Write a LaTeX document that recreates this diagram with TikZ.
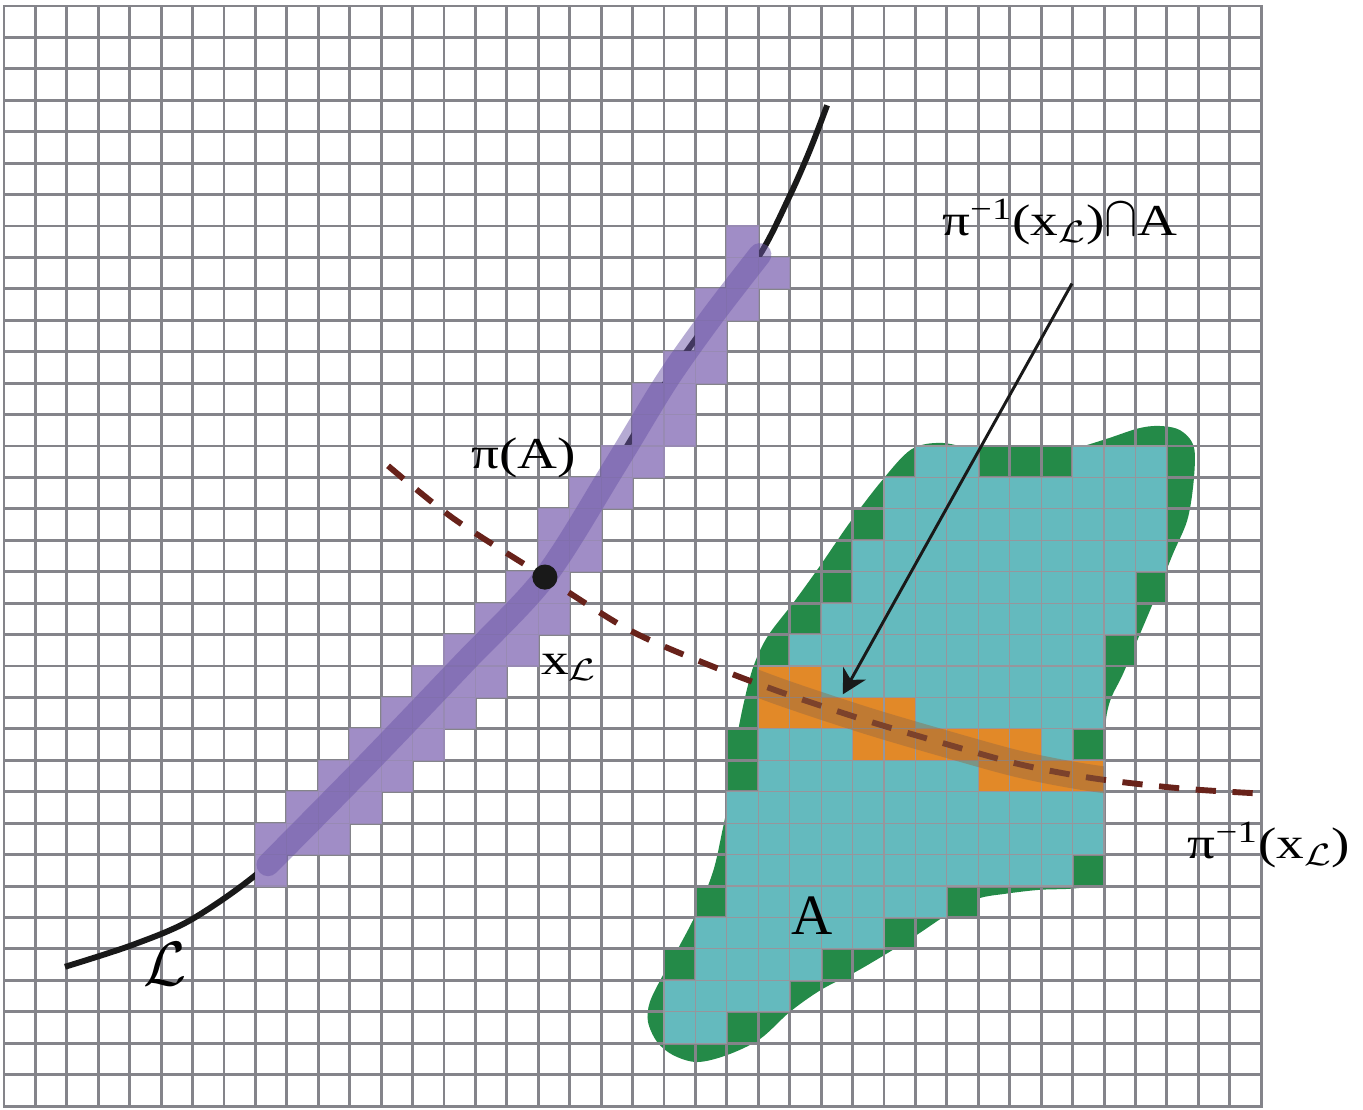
\RequirePackage{fix-cm}
\documentclass[tikz,border=0pt]{standalone}
\usepackage{graphicx}
\usepackage{fontspec}
\setmainfont{Liberation Serif}
\usetikzlibrary{arrows.meta}
\definecolor{gridGray}{RGB}{132,132,138}
\definecolor{cellCyan}{RGB}{100,186,190}
\definecolor{cellOrange}{RGB}{226,137,40}
\definecolor{cellPurple}{RGB}{160,141,198}
\definecolor{blobGreen}{RGB}{36,138,72}
\definecolor{bandPurple}{RGB}{108,86,168}
\definecolor{bandBrown}{RGB}{150,105,65}
\definecolor{fibreRed}{RGB}{104,34,26}
\newcommand{\stretchtag}[1]{\scalebox{1.25}[1]{#1}}
\newcommand{\capsign}{\scalebox{0.9}[1.3]{$\cap$}}

\begin{document}
\begin{tikzpicture}[x=0.6cm,y=-0.6cm,
  gridline/.style={draw=gridGray,line width=1.6pt,line cap=rect},
  cellbox/.style={draw=gridGray!85!white,line width=0.6pt},
  pcell/.style={cellbox,fill=cellPurple,draw=cellPurple!75!gray},
  ccell/.style={cellbox,fill=cellCyan},
  ocell/.style={cellbox,fill=cellOrange},
  curveL/.style={draw=black!90,line width=3.2pt},
  fibre/.style={draw=fibreRed,line width=3.2pt,dash pattern=on 11pt off 9pt},
  imageband/.style={draw=bandPurple,draw opacity=0.5,line width=12.5pt,line cap=round},
  fibreband/.style={draw=bandBrown,draw opacity=0.45,line width=14.5pt},
  pointer/.style={-{Stealth[length=13pt,width=14pt,inset=4pt]},line width=1.6pt,draw=black!90,fill=black!90},
  dot/.style={circle,fill=black!90,inner sep=0pt,minimum size=0.48cm},
  tag/.style={font=\fontsize{24}{28}\selectfont,inner sep=0pt},
]
\useasboundingbox (-0.127,-0.191) rectangle (43.24,35.10);
\fill[white] (-0.127,-0.191) rectangle (43.24,35.10);

% the set A and its boundary cells
\fill[blobGreen] plot[smooth cycle,tension=0.55] coordinates {(23.10,24.99) (23.30,23.40) (23.55,22.12) (23.85,21.00) (24.30,20.05) (25.15,18.94) (26.00,17.76) (26.90,16.45) (27.90,15.14) (28.85,14.12) (29.78,13.90) (30.83,14.09) (31.91,14.25) (32.96,14.25) (34.01,14.09) (35.09,13.77) (36.05,13.45) (36.68,13.36) (37.32,13.45) (37.73,13.77) (37.89,14.25) (37.83,15.33) (37.64,16.39) (37.19,17.44) (36.68,18.71) (36.14,19.99) (35.60,21.26) (35.19,22.12) (35.03,23.08) (35.00,25.31) (35.00,27.22) (34.81,27.92) (34.01,28.08) (32.96,28.12) (31.91,28.24) (30.99,28.40) (30.10,28.85) (29.05,29.55) (27.97,30.22) (27.01,30.78) (26.00,31.30) (25.01,32.00) (24.05,32.87) (23.00,33.38) (22.05,33.60) (21.29,33.38) (20.78,32.96) (20.49,32.32) (20.55,31.69) (20.97,30.83) (21.51,29.87) (22.05,28.82) (22.56,27.54) (22.85,26.27)};
\foreach \c/\r in {31/14,32/14,33/14,27/16,26/18,36/18,35/20,23/23,34/23,23/24,34/27,22/28,30/28,28/29,21/30,26/30,23/32}
  \fill[blobGreen] (\c,\r) rectangle ++(1,1);

% grid
\foreach \i in {0,...,40}
  \draw[gridline] (\i,0) -- (\i,35);
\foreach \j in {0,...,35}
  \draw[gridline] (0,\j) -- (40,\j);

% the curve L
\draw[curveL] plot[smooth] coordinates {(1.94,30.57) (4.10,29.87) (6.01,29.04) (8.40,27.32) (11.42,24.26) (14.60,20.94) (17.21,18.17) (19.38,14.73) (21.09,11.92) (22.53,9.88) (24.05,7.91) (25.01,6.02) (25.64,4.59) (26.19,3.16)};

% cells inside A
\foreach \r/\a/\b in {14/29/30,14/34/36,15/28/36,16/28/36,17/27/36,18/27/35,19/26/35,20/25/34,21/26/34,22/29/34,23/24/26,23/33/33,24/24/30,25/23/34,26/23/34,27/23/33,28/23/29,29/22/27,30/22/25,31/21/24,32/21/22}
  \foreach \c in {\a,...,\b}
    \draw[ccell] (\c,\r) rectangle ++(1,1);
% cells meeting the fibre
\foreach \r/\a/\b in {21/24/25,22/24/28,23/27/32,24/31/34}
  \foreach \c in {\a,...,\b}
    \draw[ocell] (\c,\r) rectangle ++(1,1);
% cells of pi(A)
\foreach \r/\a/\b in {7/23/23,8/23/24,9/22/23,10/22/22,11/21/22,12/20/21,13/20/21,14/19/20,15/18/19,16/17/18,17/17/18,18/16/17,19/15/17,20/14/16,21/13/15,22/12/14,23/11/13,24/10/12,25/9/11,26/8/10,27/8/8}
  \foreach \c in {\a,...,\b}
    \draw[pcell] (\c,\r) rectangle ++(1,1);

% the fibre through x_L
\draw[fibre] plot[smooth] coordinates {(12.22,14.63) (14.32,16.32) (17.21,18.17) (19.85,19.83) (22.14,20.85) (24.63,21.80) (27.33,22.70) (29.69,23.40) (32.33,24.13) (34.71,24.58) (37.51,24.90) (40.03,25.06)};

% translucent bands
\draw[imageband] plot[smooth] coordinates {(8.40,27.32) (11.42,24.26) (14.60,20.94) (17.21,18.17) (19.38,14.73) (21.09,11.92) (22.53,9.88) (24.05,7.91)};
\begin{scope}
  \clip (24,0) rectangle (35,35);
  \draw[fibreband] plot[smooth] coordinates {(22.14,20.85) (24.63,21.80) (27.33,22.70) (29.69,23.40) (32.33,24.13) (34.71,24.58) (37.51,24.90)};
\end{scope}

% point and labels
\node[dot] (xL) at (17.21,18.17) {};
\node[tag,anchor=base] (xLtag) at (17.98,21.26) {\stretchtag{x\textsubscript{$\mathcal{L}$}}};
\node[tag,anchor=base] (imageTag) at (16.54,14.73) {\stretchtag{π(A)}};
\node[tag,anchor=base] (meet) at (33.60,7.30) {\stretchtag{π\textsuperscript{−1}(x\textsubscript{$\mathcal{L}$})\capsign A}};
\node[tag,anchor=base] (fibreTag) at (40.25,27.13) {\stretchtag{π\textsuperscript{−1}(x\textsubscript{$\mathcal{L}$})}};
\node[tag,anchor=base,font=\fontsize{31}{36}\selectfont] (setTag) at (25.71,29.55) {A};
\node[tag,font=\fontsize{34}{40}\selectfont] (curveTag) at (5.12,30.47) {$\mathcal{L}$};

\coordinate (hit) at (26.69,21.90);
\draw[pointer] ([shift={(0.38,1.53)}]meet.base) -- (hit);
\end{tikzpicture}
\end{document}
